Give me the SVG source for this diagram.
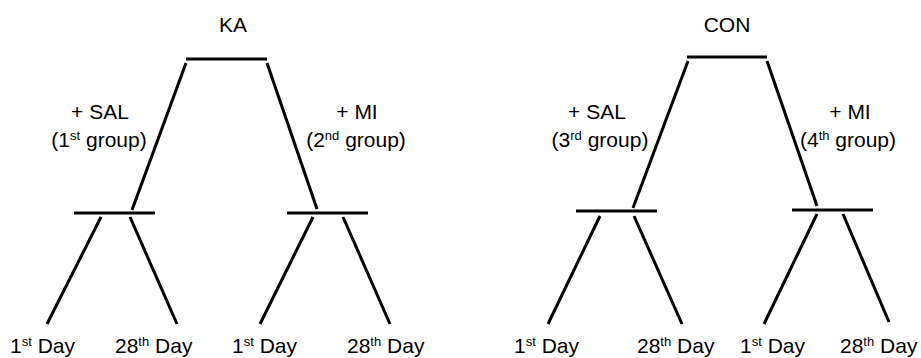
<svg xmlns="http://www.w3.org/2000/svg" width="921" height="358" viewBox="0 0 921 358">
<style>
text{font-family:"Liberation Sans",Arial,sans-serif;font-size:21px;fill:#000}
.m{text-anchor:middle}
.sup{font-size:13px}
line{stroke:#000;stroke-width:3;stroke-linecap:butt}
</style>
<rect width="921" height="358" fill="#fff"/>
<g id="connectors">
<line x1="186" y1="59" x2="267" y2="59"/>
<line x1="186" y1="63" x2="132" y2="210"/>
<line x1="267" y1="63" x2="317" y2="209"/>
<line x1="74" y1="213" x2="155" y2="213"/>
<line x1="287" y1="213" x2="368" y2="213"/>
<line x1="101" y1="217" x2="47" y2="324"/>
<line x1="130" y1="217" x2="177" y2="324"/>
<line x1="313" y1="217" x2="260" y2="324"/>
<line x1="343" y1="217" x2="390" y2="324"/>
<line x1="687" y1="57" x2="767" y2="57"/>
<line x1="688" y1="61" x2="633" y2="208"/>
<line x1="767" y1="61" x2="817" y2="206"/>
<line x1="576" y1="211" x2="657" y2="211"/>
<line x1="792" y1="210" x2="873" y2="210"/>
<line x1="600" y1="216" x2="548" y2="324"/>
<line x1="634" y1="216" x2="682" y2="324"/>
<line x1="817" y1="214" x2="764" y2="324"/>
<line x1="843" y1="214" x2="889" y2="322"/>
</g>
<g id="ka"><text class="m" x="233" y="32">KA</text></g>
<g id="con"><text class="m" x="727" y="32">CON</text></g>
<g id="sal1"><text class="m" x="100" y="119">+ SAL</text><text class="m" x="99" y="147">(1<tspan class="sup" dy="-7">st</tspan><tspan dy="7"> group)</tspan></text></g>
<g id="mi2"><text class="m" x="357" y="119">+ MI</text><text class="m" x="356" y="147">(2<tspan class="sup" dy="-7">nd</tspan><tspan dy="7"> group)</tspan></text></g>
<g id="sal3"><text class="m" x="597" y="119">+ SAL</text><text class="m" x="600" y="147">(3<tspan class="sup" dy="-7">rd</tspan><tspan dy="7"> group)</tspan></text></g>
<g id="mi4"><text class="m" x="850" y="119">+ MI</text><text class="m" x="848" y="147">(4<tspan class="sup" dy="-7">th</tspan><tspan dy="7"> group)</tspan></text></g>
<g id="d1a"><text x="10" y="353">1<tspan class="sup" dy="-7">st</tspan><tspan dy="7"> Day</tspan></text></g>
<g id="d28a"><text x="115" y="353">28<tspan class="sup" dy="-7">th</tspan><tspan dy="7"> Day</tspan></text></g>
<g id="d1b"><text x="232" y="353">1<tspan class="sup" dy="-7">st</tspan><tspan dy="7"> Day</tspan></text></g>
<g id="d28b"><text x="347" y="353">28<tspan class="sup" dy="-7">th</tspan><tspan dy="7"> Day</tspan></text></g>
<g id="d1c"><text x="514" y="353">1<tspan class="sup" dy="-7">st</tspan><tspan dy="7"> Day</tspan></text></g>
<g id="d28c"><text x="637" y="353">28<tspan class="sup" dy="-7">th</tspan><tspan dy="7"> Day</tspan></text></g>
<g id="d1d"><text x="740" y="353">1<tspan class="sup" dy="-7">st</tspan><tspan dy="7"> Day</tspan></text></g>
<g id="d28d"><text x="840" y="353">28<tspan class="sup" dy="-7">th</tspan><tspan dy="7"> Day</tspan></text></g>
</svg>
